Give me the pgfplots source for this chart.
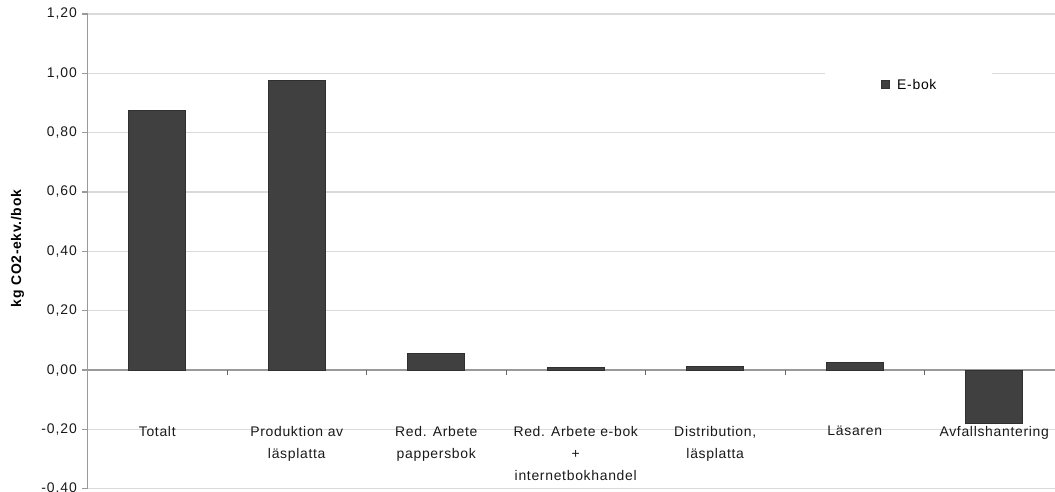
\documentclass[border=0pt]{standalone}
\usepackage{pgfplots}
\pgfplotsset{compat=1.18}
\usepackage{fontspec}
\setmainfont{Liberation Sans}
\newfontfamily\ticksfont{Liberation Sans}[LetterSpace=7]
\newfontfamily\labfont{Liberation Sans}[LetterSpace=5]
\definecolor{barc}{HTML}{404040}
\definecolor{gridc}{HTML}{DADADA}
\definecolor{axc}{HTML}{9A9A9A}
\begin{document}
\begin{tikzpicture}
\begin{axis}[
  at={(87.5bp,3.3bp)}, anchor=south west,
  scale only axis, width=976.5bp, height=474.7bp,
  xmin=-0.5, xmax=6.5, ymin=-0.4, ymax=1.2,
  ybar, bar width=57bp,
  ytick={-0.4,-0.2,0,0.2,0.4,0.6,0.8,1.0,1.2},
  ymajorgrids, grid style={gridc, line width=1.2bp},
  axis y line*=left, axis x line*=bottom,
  x axis line style={draw=none},
  y axis line style={axc, line width=1.6bp},
  xtick={0,1,2,3,4,5,6},
  xticklabels={Totalt, {Produktion av\\läsplatta}, {Red. Arbete\\pappersbok}, {Red. Arbete e-bok\\+\\internetbokhandel}, {Distribution,\\läsplatta}, Läsaren, Avfallshantering},
  x tick style={draw=none},
  y tick style={axc, line width=1.2bp},
  tick align=outside, major tick length=5bp,
  xticklabel style={font=\labfont\fontsize{14}{22}\selectfont, align=center, anchor=north, yshift=71bp, text=black!90},
  yticklabel style={font=\ticksfont\fontsize{14}{16}\selectfont, text=black!90, xshift=-2bp},
  /pgf/number format/.cd, fixed, fixed zerofill, precision=2, use comma, assume math mode=true,
  /pgfplots/.cd,
  ylabel={kg CO2-ekv./bok},
  every axis y label/.style={at={(axis description cs:-0.0717,0.506)}, rotate=90, anchor=center, font=\labfont\bfseries\fontsize{14}{16}\selectfont},
  legend style={at={(0.8408,0.8504)}, anchor=center, draw=none, fill=white, inner xsep=56bp, inner ysep=10bp, nodes={inner sep=0pt}, column sep=8bp, font=\labfont\fontsize{14}{16}\selectfont},
  legend image code/.code={\draw[fill=barc,draw=barc!80!black] (0bp,-3bp) rectangle (8bp,5bp);},
]
\draw[axc, line width=1.6bp] (axis cs:-0.5,0) -- (axis cs:6.5,0);
\pgfplotsinvokeforeach{0.5,1.5,2.5,3.5,4.5,5.5}{
  \draw[black!60, line width=1bp] (axis cs:#1,0) -- ++(0bp,-5bp);
}
\addplot[fill=barc, draw=barc!75!black, line width=0.6bp] coordinates {(0,0.874) (1,0.977) (2,0.056) (3,0.008) (4,0.013) (5,0.027) (6,-0.180)};
\legend{E-bok}
\end{axis}
\pgfresetboundingbox
\useasboundingbox (0,0) rectangle (1055bp,492bp);
\end{tikzpicture}
\end{document}
